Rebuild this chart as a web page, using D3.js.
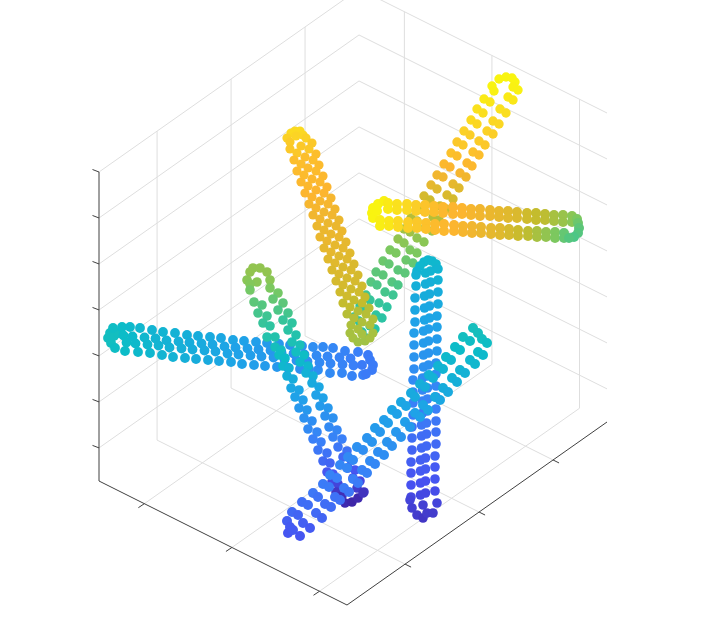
<!DOCTYPE html>
<html><head><meta charset="utf-8"><title>scatter3</title>
<script src="https://cdn.jsdelivr.net/npm/d3@7"></script>
<style>html,body{margin:0;padding:0;background:#fff;overflow:hidden}svg{display:block}</style></head>
<body><svg id="c" width="718" height="622"></svg>
<script>
const xTicks=[-1,0,1], yTicks=[-1,0,1], zTicks=[-3,-2,-1,0,1,2,3];
const xDomain=[-1.518,1.314], yDomain=[-1.785,1.729], zDomain=[-3.72,3];

const Ax=[392,394,399,406,412,415,413,418,408,413,
384,390,377,383,371,377,364,370,357,363,351,357,344,350,337,343,331,337,324,330,317,323,311,317,304,310,298,304,290,296,283,289,276,283,271,277,266,270,260,265,254,259,
400,406,393,399,387,393,379,385,373,379,367,372,360,366,353,359,347,353,340,346,333,339,325,332,317,324,310,317,306,313,298,305,292,298,285,293,279,287,276,282,270,275,262,266];
const Ay=[514,509,521,523,522,518,513,510,503,500,
501,498,491,487,480,476,469,465,458,455,447,444,436,433,425,423,415,411,404,400,393,390,382,379,371,368,361,357,350,347,339,336,328,325,318,315,305,300,294,290,283,279,
491,487,479,476,469,466,459,455,448,445,437,434,427,423,416,412,405,401,394,391,383,380,372,369,362,358,350,347,340,337,330,327,318,315,308,305,297,293,285,282,274,271,268,262];
const Ac=[1,.99,1,1,1,1,.99,.99,.97,.96,
.97,.96,.94,.93,.92,.91,.89,.88,.86,.86,.84,.83,.81,.8,.78,.78,.76,.75,.73,.72,.71,.7,.68,.67,.65,.65,.63,.62,.6,.6,.58,.57,.56,.56,.55,.54,.52,.51,.5,.49,.48,.48,
.94,.93,.91,.91,.89,.88,.87,.86,.84,.83,.81,.81,.79,.78,.76,.75,.74,.73,.71,.7,.68,.68,.66,.65,.63,.62,.6,.6,.58,.57,.56,.56,.55,.54,.53,.52,.51,.5,.5,.49,.49,.48,.48,.47];

const Bx=[191,195,200,203,187,206,190,196,
190,201,212,197,209,194,205,216,201,213,197,208,219,204,216,201,212,223,208,220,205,216,227,212,224,209,220,231,216,228,213,224,235,220,232,217,228,239,224,236,220,231,242,227,239,224,235,246,231,243,228,239,250,235,247,232,243,254,239,251,236,247,258,243,255,240,251,262,247,259,243,254,265,250,262,247,258,269,254,266,251,262,273,258,270,
250,253,258,265,270,273,262];
const By=[467,469,469,465,462,462,458,464,
451,454,457,447,451,440,443,446,436,440,429,432,435,425,429,418,421,424,414,418,407,410,413,403,407,396,399,402,392,396,385,388,391,381,385,374,377,380,370,374,363,366,369,359,363,352,355,358,348,352,341,344,347,337,341,330,333,336,326,330,319,322,325,315,319,308,311,314,304,308,297,300,303,293,297,286,289,292,282,286,275,278,281,271,275,
267,262,258,259,262,267,266];
const Bc=[.92,.92,.92,.91,.89,.89,.87,.9,
.86,.86,.86,.86,.86,.83,.83,.83,.83,.83,.82,.82,.82,.82,.82,.81,.81,.81,.81,.81,.8,.8,.8,.8,.8,.79,.79,.79,.79,.79,.78,.78,.78,.78,.78,.77,.77,.77,.77,.77,.77,.77,.77,.77,.77,.76,.76,.76,.76,.76,.75,.75,.75,.75,.75,.74,.74,.74,.74,.74,.73,.73,.73,.73,.73,.72,.72,.72,.72,.72,.7,.7,.7,.7,.7,.68,.68,.68,.68,.68,.67,.67,.67,.67,.67,
.66,.66,.65,.65,.66,.66,.66];

const Cx=[273,272,273,278,284,277,
288,288,297,297,307,307,316,316,325,325,334,334,343,343,353,353,362,362,371,371,380,380,390,390,399,399,408,408,417,417,427,427,436,436,445,445,454,454,463,463,472,472,
280,280,289,289,298,298,308,308,317,317,326,326,335,335,344,344,354,354,363,363,372,372,381,381,391,391,400,400,409,409,418,418,428,428,437,437,446,446,455,455,464,464,
477,478,479,478,474,469];
const Cy=[392,387,382,396,399,389,
397,391,396,390,396,390,395,389,395,388,394,388,393,387,393,386,392,386,391,385,391,384,390,384,389,383,389,382,388,382,387,381,387,380,386,380,385,379,385,378,384,378,
380,374,379,374,379,373,378,372,378,372,377,371,376,370,376,369,375,369,374,368,374,367,373,367,372,366,372,365,371,365,370,364,369,364,369,363,368,363,368,362,367,362,
381,377,372,367,363,362];
const Cc=[1,1,1,1,.99,1,
.97,.97,.94,.94,.92,.92,.88,.88,.85,.85,.83,.83,.81,.81,.8,.8,.8,.8,.79,.79,.78,.78,.77,.77,.76,.76,.75,.75,.74,.74,.72,.72,.7,.7,.69,.69,.66,.66,.64,.64,.62,.62,
.98,.98,.96,.96,.92,.92,.88,.88,.86,.86,.84,.84,.82,.82,.81,.81,.8,.8,.79,.79,.78,.78,.77,.77,.76,.76,.75,.75,.73,.73,.71,.71,.69,.69,.66,.66,.63,.63,.6,.6,.57,.57,
.6,.58,.56,.55,.54,.55];

const Dx=[153,160,167,150,147,157,150,170,170,
150,154,162,158,167,163,170,167,175,175,181,179,185,183,189,187,193,191,199,195,203,199,207,204,212,208,217,213,221,218,227,223,230,227,233,232,238,236,242,
178,173,183,178,188,183,192,188,196,192,200,196,204,200,208,206,213,212,219,216,223,220,228,225,233,229,237,233,242,238,247,243,251,248,255,253,260,257,264,
240,245,252,258,263];
const Dy=[332,332,328,328,320,318,316,320,312,
310,298,295,287,284,277,274,263,263,253,250,245,242,234,232,224,221,212,210,203,200,192,190,182,179,171,168,161,158,150,147,139,137,128,126,118,116,108,104,
307,301,297,290,287,280,277,270,265,258,255,248,245,238,234,227,224,217,213,205,202,194,192,184,182,173,170,163,161,153,149,143,140,132,130,122,119,112,108,
103,97,98,102,107];
const Dc=[.63,.63,.63,.63,.62,.62,.61,.62,.6,
.59,.56,.55,.53,.52,.51,.5,.47,.47,.43,.42,.41,.4,.38,.37,.35,.34,.32,.31,.3,.29,.27,.27,.25,.24,.23,.22,.2,.2,.18,.17,.15,.14,.11,.11,.08,.07,.04,.03,
.59,.57,.56,.54,.53,.51,.5,.49,.47,.45,.44,.42,.41,.39,.38,.36,.35,.33,.32,.3,.3,.28,.27,.25,.25,.23,.22,.21,.2,.18,.17,.15,.14,.12,.11,.09,.08,.05,.04,
.02,.01,0,.01,.03];

const Ex=[324,328,332,336,320,317,
325.5,330.5,325.5,330.5,324.5,329.5,324.5,329.5,324.5,329.5,323.5,328.5,323.5,328.5,323.5,328.5,323.5,328.5,322.5,327.5,322.5,327.5,322.5,327.5,322.5,327.5,321.5,326.5,321.5,326.5,321.5,326.5,320.5,325.5,320.5,325.5,320.5,325.5,320.5,325.5,
316,316,315,315,315,314,314,314,314,313,313,313,313,312,312,312,311,311,311,311,
338,338,338,338,337,337,337,337,336,336,336,336,336,336,336,336,335,335,335,335,
310,312,317,323,327,333,337,323];
const Ey=[338,340,339,336,334,329,
327,329,316,318,304,306,292,294,280,282,269,271,257,259,245,247,233,235,222,224,210,212,199,201,187,189,175,177,164,166,152,154,140,142,129,131,117,119,105,107,
325,314,302,290,278,267,255,243,231,220,208,197,185,173,162,150,138,127,115,103,
331,320,308,296,284,273,261,249,237,226,214,203,191,179,168,156,144,133,121,109,
100,92,85,82,87,87,97,95];
const Ec=[.38,.38,.38,.38,.38,.37,
.37,.37,.35,.35,.34,.34,.32,.32,.31,.31,.29,.29,.28,.28,.26,.26,.25,.25,.24,.24,.22,.22,.21,.21,.19,.19,.18,.18,.16,.16,.15,.15,.13,.13,.12,.12,.1,.1,.08,.08,
.36,.35,.33,.32,.3,.29,.27,.26,.24,.23,.22,.2,.19,.17,.16,.14,.13,.11,.1,.08,
.37,.36,.34,.33,.31,.3,.28,.27,.25,.24,.22,.21,.2,.18,.17,.15,.14,.12,.11,.09,
.07,.06,.05,.04,.05,.05,.07,.06];

const Fx=[187,190,188,193,200,192,198,
202,208,213,218,223,229,230,237,240,247,248,253,257,263,267,272,275,280,284,288,292,297,301,306,311,315,320,325,329,333,338,343,346,351,355,360,363,370,373,378,
203,210,216,222,225,231,235,240,244,249,253,258,262,267,270,275,278,284,287,292,296,301,305,310,315,320,323,328,335,340,343,348,352,357,360,365,370,375,378,383,382,387];
const Fy=[79,73,67,70,64,88,85,
98,95,107,103,116,113,125,122,135,132,143,140,153,150,162,158,172,168,180,177,190,186,198,194,207,203,216,213,225,222,234,231,243,240,253,250,263,259,272,267,
77,72,87,82,96,93,103,100,112,108,121,117,130,127,139,136,148,145,158,154,168,163,178,173,187,183,195,190,203,200,212,208,222,218,230,227,240,236,248,245,261,257];
const Fc=[.13,.12,.11,.12,.11,.15,.14,
.16,.16,.18,.17,.19,.19,.21,.2,.22,.22,.23,.23,.25,.24,.26,.26,.28,.27,.29,.29,.31,.3,.32,.31,.33,.33,.35,.34,.36,.36,.37,.37,.39,.38,.4,.4,.42,.41,.43,.43,
.13,.12,.15,.14,.16,.16,.17,.17,.19,.18,.2,.19,.21,.21,.23,.22,.24,.24,.26,.25,.27,.26,.29,.28,.3,.3,.31,.31,.33,.32,.34,.33,.36,.35,.37,.36,.38,.38,.4,.39,.42,.41];

const Gx=[10,8,11,14,18,
13,22,30,40,52,63,75,87,98,110,121,133,144,156,167,179,190,202,213,223,233,245,258,268,
15,25,38,50,62,73,85,96,108,119,131,142,154,165,177,188,200,209,218,230,242,252,263,
23.5,26.5,32.5,35.5,44.5,47.5,55.5,58.5,66.5,69.5,78.5,81.5,89.5,92.5,101.5,104.5,112.5,115.5,124.5,127.5,135.5,138.5,147.5,150.5,158.5,161.5,170.5,173.5,181.5,184.5,193.5,196.5,204.5,207.5,216.5,219.5,227.5,230.5,239.5,242.5,250.5,253.5,
270,273,272,266,262];
const Gy=[267,262,257,264,267,
272,273,273,272,270,268,267,265,264,263,262,260,259,258,257,256,255,254,253,253,252,249,248,245,
252,249,248,247,245,243,242,241,240,239,238,236,235,234,233,232,231,231,230,227,227,224,225,
264.5,257.5,263.5,256.5,262.5,255.5,261.5,254.5,259.5,252.5,258.5,251.5,257.5,250.5,256.5,249.5,255.5,248.5,253.5,246.5,252.5,245.5,251.5,244.5,250.5,243.5,249.5,242.5,247.5,240.5,246.5,239.5,245.5,238.5,244.5,237.5,243.5,236.5,242.5,235.5,241.5,234.5,
240,235,230,226,235];
const Gc=[.42,.42,.42,.42,.42,
.41,.4,.39,.38,.37,.37,.36,.35,.34,.33,.32,.31,.3,.29,.28,.27,.26,.25,.24,.23,.22,.21,.2,.19,
.41,.4,.39,.38,.37,.36,.35,.34,.33,.32,.31,.3,.29,.28,.27,.26,.25,.25,.24,.23,.22,.21,.2,
.4,.4,.39,.39,.38,.38,.37,.37,.36,.36,.35,.35,.34,.34,.33,.33,.32,.32,.31,.31,.3,.3,.29,.29,.28,.28,.27,.27,.26,.26,.25,.25,.24,.24,.23,.23,.22,.22,.21,.21,.2,.2,
.19,.19,.19,.19,.19];

const parulaStops=[0,.1,.2,.3,.4,.5,.6,.7,.8,.9,1];
const parulaColors=["#3e26a8","#4751f0","#3a80f8","#1fa2e8","#0cbcc8","#2ec4a0","#7cc85f","#c4bc2d","#fcb52f","#fbd425","#f9f410"];
const color=d3.scaleLinear().domain(parulaStops).range(parulaColors).interpolate(d3.interpolateRgb);

const fx=d3.scaleLinear().domain(xDomain).range([0,1]);
const fy=d3.scaleLinear().domain(yDomain).range([0,1]);
const fz=d3.scaleLinear().domain(zDomain).range([0,1]);
const front=[347,605], toLeft=[-248,-124], toRight=[260,-183], up=[0,-309];
function proj(a,b,c){const p=1-fx(a),q=fy(b),r=fz(c);
  return [front[0]+p*toLeft[0]+q*toRight[0]+r*up[0], front[1]+p*toLeft[1]+q*toRight[1]+r*up[1]];}
const [x0,x1]=xDomain,[y0,y1]=yDomain,[z0,z1]=zDomain;

const svg=d3.select("#c");
const line=d3.line();
const gridG=svg.append("g").attr("fill","none").attr("stroke","#dedede").attr("stroke-width",1);
const grids=[];
zTicks.forEach(z=>grids.push([proj(x0,y0,z),proj(x0,y1,z),proj(x1,y1,z)]));
xTicks.forEach(x=>grids.push([proj(x,y0,z0),proj(x,y1,z0),proj(x,y1,z1)]));
yTicks.forEach(y=>grids.push([proj(x1,y,z0),proj(x0,y,z0),proj(x0,y,z1)]));
gridG.selectAll("path").data(grids).join("path").attr("d",line);

const axG=svg.append("g").attr("fill","none").attr("stroke","#404040").attr("stroke-width",1);
const axes=[[proj(x0,y0,z1),proj(x0,y0,z0),proj(x1,y0,z0),proj(x1,y1,z0)]];
zTicks.forEach(z=>{const p=proj(x0,y0,z);axes.push([p,[p[0]-6.5,p[1]-2.5]]);});
xTicks.forEach(x=>{const p=proj(x,y0,z0);axes.push([p,[p[0]-6,p[1]+4]]);});
yTicks.forEach(y=>{const p=proj(x1,y,z0);axes.push([p,[p[0]+6,p[1]+3]]);});
axG.selectAll("path").data(axes).join("path").attr("d",line);

const viewX=d3.scaleLinear().domain([-1,507]).range([99,607]);
const viewY=d3.scaleLinear().domain([-5,605]).range([605,-5]);
const legs=[[Ax,Ay,Ac,4.7],[Ex,Ey,Ec,4.8],[Gx,Gy,Gc,4.9],[Dx,Dy,Dc,4.8],[Bx,By,Bc,4.6],[Cx,Cy,Cc,5],[Fx,Fy,Fc,5]];
legs.forEach(([X,Y,C,r])=>{
  svg.append("g").selectAll("circle").data(X.map((x,i)=>({x,y:Y[i],c:C[i]}))).join("circle")
    .attr("cx",d=>viewX(d.x)).attr("cy",d=>viewY(d.y)).attr("r",r).attr("fill",d=>color(d.c));
});
</script></body></html>
